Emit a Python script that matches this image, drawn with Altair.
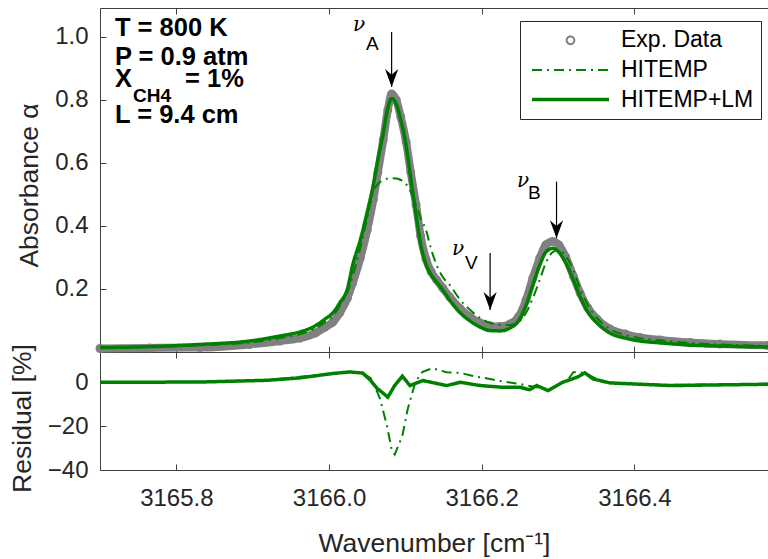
import altair as alt
import pandas as pd

# ---------------- data ----------------
wn = [3165.700, 3165.765, 3165.831, 3165.896, 3165.936, 3165.962, 3165.982, 3165.995,
      3166.005, 3166.014, 3166.024, 3166.031, 3166.041, 3166.050, 3166.058, 3166.064,
      3166.071, 3166.077, 3166.082, 3166.088, 3166.094, 3166.101, 3166.107, 3166.114,
      3166.120, 3166.127, 3166.134, 3166.141, 3166.149, 3166.158, 3166.172, 3166.185,
      3166.198, 3166.211, 3166.224, 3166.237, 3166.248, 3166.258, 3166.267, 3166.276,
      3166.284, 3166.293, 3166.301, 3166.310, 3166.320, 3166.329, 3166.339, 3166.351,
      3166.368, 3166.388, 3166.407, 3166.434, 3166.473, 3166.512, 3166.575]

exp_abs = [0.011, 0.013, 0.014, 0.024, 0.035, 0.044, 0.060, 0.079, 0.095, 0.124,
           0.171, 0.219, 0.298, 0.387, 0.483, 0.571, 0.673, 0.768, 0.819, 0.800,
           0.746, 0.667, 0.571, 0.467, 0.368, 0.295, 0.254, 0.229, 0.203, 0.175,
           0.137, 0.111, 0.092, 0.083, 0.081, 0.089, 0.111, 0.165, 0.235, 0.298,
           0.340, 0.351, 0.340, 0.302, 0.241, 0.187, 0.140, 0.105, 0.073, 0.057,
           0.046, 0.038, 0.030, 0.025, 0.021]

hitemp_abs = [0.013, 0.016, 0.021, 0.030, 0.044, 0.057, 0.075, 0.095, 0.114, 0.146,
              0.190, 0.241, 0.330, 0.425, 0.508, 0.533, 0.546, 0.551, 0.552, 0.551,
              0.546, 0.533, 0.508, 0.467, 0.425, 0.387, 0.324, 0.276, 0.238, 0.213,
              0.165, 0.133, 0.108, 0.092, 0.086, 0.086, 0.095, 0.124, 0.171, 0.229,
              0.283, 0.317, 0.324, 0.305, 0.260, 0.200, 0.149, 0.108, 0.073, 0.054,
              0.044, 0.037, 0.029, 0.024, 0.019]

lm_abs = [0.014, 0.017, 0.024, 0.035, 0.051, 0.064, 0.083, 0.105, 0.124, 0.156,
          0.200, 0.276, 0.356, 0.444, 0.530, 0.610, 0.695, 0.775, 0.805, 0.787,
          0.737, 0.654, 0.552, 0.435, 0.343, 0.279, 0.244, 0.222, 0.197, 0.165,
          0.124, 0.098, 0.079, 0.068, 0.067, 0.076, 0.098, 0.149, 0.213, 0.276,
          0.317, 0.329, 0.317, 0.283, 0.229, 0.175, 0.127, 0.092, 0.060, 0.044,
          0.035, 0.029, 0.022, 0.019, 0.016]

res_wn_hitemp = [3165.700, 3165.831, 3165.919, 3166.005, 3166.027, 3166.044, 3166.056,
                 3166.067, 3166.076, 3166.082, 3166.086, 3166.096, 3166.103, 3166.113,
                 3166.122, 3166.135, 3166.154, 3166.172, 3166.189, 3166.211, 3166.228,
                 3166.250, 3166.272, 3166.289, 3166.312, 3166.320, 3166.335, 3166.359,
                 3166.403, 3166.447, 3166.575]
res_hitemp = [0.0, 0.2, 1.0, 4.0, 4.8, 4.3, 1.5, -7.7, -20.0, -30.7, -33.0, -24.5, -12.3,
              0.0, 4.6, 6.4, 4.6, 4.3, 2.8, 1.5, 0.3, -0.8, -2.3, -3.1, 0.8, 4.6, 4.3,
              0.0, -0.8, -1.2, -0.7]

res_wn_lm = [3165.700, 3165.831, 3165.919, 3165.962, 3166.005, 3166.027, 3166.044,
             3166.054, 3166.063, 3166.071, 3166.077, 3166.086, 3166.096, 3166.106,
             3166.123, 3166.154, 3166.172, 3166.198, 3166.228, 3166.250, 3166.263,
             3166.272, 3166.287, 3166.306, 3166.325, 3166.335, 3166.346, 3166.368,
             3166.447, 3166.575]
res_lm = [0.0, 0.1, 0.9, 2.0, 4.0, 4.7, 4.2, 1.0, -2.8, -5.0, -6.8, -1.5, 2.8, -1.5,
          0.8, -1.5, 0.0, -1.5, -2.3, -2.3, -3.4, -1.5, -3.8, 0.0, 2.3, 4.3, 1.5,
          -0.3, -1.5, -0.9]

series_names = ["Exp. Data", "HITEMP", "HITEMP+LM"]

x_ticks = [3165.8, 3166.0, 3166.2, 3166.4]
abs_ticks = [0.2, 0.4, 0.6, 0.8, 1.0]
res_ticks = [0, -20, -40]
x_domain = [3165.7, 3166.575]
abs_domain = [0, 1.092]
res_domain = [-40, 13.8]

# annotations
cond_text = ["T = 800 K", "P = 0.9 atm", "X", "= 1%", "L = 9.4 cm"]
cond_x = [3165.7196, 3165.7196, 3165.7196, 3165.8113, 3165.7196]
cond_y = [1.003, 0.911, 0.841, 0.841, 0.727]
cond_sub_text = ["CH4"]
cond_sub_x = [3165.7432]
cond_sub_y = [0.795]

nu_x = [3166.0314, 3166.2462, 3166.161]
nu_y = [1.019, 0.524, 0.308]
nu_sub_text = ["A", "B", "V"]
nu_sub_x = [3166.0484, 3166.2606, 3166.178]
nu_sub_y = [0.959, 0.486, 0.263]

arrow_x = [3166.082, 3166.298, 3166.211]
arrow_top = [1.016, 0.541, 0.314]
arrow_tip = [0.841, 0.361, 0.133]

# ---------------- styling ----------------
GREEN = "#008000"
GRAY = "#808080"
INK = "#262626"
AXC = "#404040"
FONT = "Liberation Sans"
W, H = 668, 462
TOP_H = 344

circle_path = "M-0.1,0A0.1,0.1 0 1,0 0.1,0A0.1,0.1 0 1,0 -0.1,0Z"
line_path = "M-1,0L1,0"
arrow_path = "M0,0L-0.33,-0.9L0,-0.62L0.33,-0.9Z"

# ---------------- frames ----------------
exp_df = pd.DataFrame({"wn": wn, "value": exp_abs, "series": "Exp. Data"})
model_df = pd.DataFrame({
    "wn": wn + wn,
    "value": hitemp_abs + lm_abs,
    "series": ["HITEMP"] * len(wn) + ["HITEMP+LM"] * len(wn),
})
resh_df = pd.DataFrame({"wn": res_wn_hitemp, "value": res_hitemp, "series": "HITEMP"})
resl_df = pd.DataFrame({"wn": res_wn_lm, "value": res_lm, "series": "HITEMP+LM"})
arrow_df = pd.DataFrame({"wn": arrow_x, "top": arrow_top, "tip": arrow_tip})
cond_df = pd.DataFrame({"wn": cond_x, "y": cond_y, "label": cond_text})
cond_sub_df = pd.DataFrame({"wn": cond_sub_x, "y": cond_sub_y, "label": cond_sub_text})
nu_df = pd.DataFrame({"wn": nu_x, "y": nu_y, "label": ["ν"] * len(nu_x)})
nu_sub_df = pd.DataFrame({"wn": nu_sub_x, "y": nu_sub_y, "label": nu_sub_text})


def xs():
    return alt.Scale(domain=x_domain, nice=False, zero=False)


def ytop():
    return alt.Scale(domain=abs_domain, range=[TOP_H, 0], nice=False, zero=False)


def ybot():
    return alt.Scale(domain=res_domain, range=[H, TOP_H], nice=False, zero=False)


def X(axis, field="wn:Q"):
    return alt.X(field, scale=xs(), axis=axis)


def tick_axis(orient, offset, domain):
    return alt.Axis(orient=orient, offset=offset, values=x_ticks, labels=False, ticks=True,
                    tickSize=6, domain=domain, title=None, grid=False)


color = alt.Color("series:N", scale=alt.Scale(domain=series_names, range=[GRAY, GREEN, GREEN]), title=None)
shape = alt.Shape("series:N", scale=alt.Scale(domain=series_names, range=[circle_path, line_path, line_path]), title=None)
dash = alt.StrokeDash("series:N", scale=alt.Scale(domain=series_names, range=[[1, 0], [10, 5, 2, 5], [1, 0]]), title=None)
swidth = alt.StrokeWidth("series:N", scale=alt.Scale(type="ordinal", domain=series_names, range=[2, 2, 3.5]), title=None)

axis_labels = alt.Axis(orient="bottom", offset=0, values=x_ticks, format=".1f", ticks=False, tickSize=0,
                       domain=False, labelPadding=16, title="Wavenumber [cm⁻¹]", titlePadding=20, grid=False)
left_domain = alt.Axis(orient="left", domain=True, ticks=False, labels=False, title=None, grid=False)
axis_abs = alt.Axis(orient="left", values=abs_ticks, format=".1f", offset=-6, tickSize=6, domain=False,
                    labelPadding=12, title="Absorbance α", titlePadding=11, titleY=177, grid=False)
axis_res = alt.Axis(orient="left", values=res_ticks, format="d", offset=-6, tickSize=6, domain=False,
                    labelPadding=12, title="Residual [%]", titlePadding=11, titleY=410, grid=False)

band = alt.Chart(exp_df).mark_line(color=GRAY, strokeWidth=8, interpolate="monotone", strokeCap="round").encode(
    x=X(axis_labels), y=alt.Y("value:Q", scale=ytop(), axis=left_domain))

points = alt.Chart(exp_df).mark_point(filled=False, size=4900, opacity=1).encode(
    x=X(tick_axis("top", -H, True)), y=alt.Y("value:Q", scale=ytop(), axis=None),
    color=color, shape=shape, strokeWidth=swidth)

models = alt.Chart(model_df).mark_line(interpolate="monotone").encode(
    x=X(tick_axis("bottom", -H, True)), y=alt.Y("value:Q", scale=ytop(), axis=axis_abs),
    color=color, strokeDash=dash, strokeWidth=swidth)

res_h = alt.Chart(resh_df).mark_line().encode(
    x=X(tick_axis("top", -TOP_H, True)), y=alt.Y("value:Q", scale=ybot(), axis=axis_res),
    color=color, strokeDash=dash, strokeWidth=swidth)

res_l = alt.Chart(resl_df).mark_line().encode(
    x=X(tick_axis("bottom", -(H - TOP_H), False)), y=alt.Y("value:Q", scale=ybot(), axis=left_domain),
    color=color, strokeDash=dash, strokeWidth=swidth)

rules = alt.Chart(arrow_df).mark_rule(color="black", strokeWidth=1.2).encode(
    x=X(None), y=alt.Y("top:Q", scale=ytop(), axis=None), y2="tip:Q")

heads = alt.Chart(arrow_df).mark_point(shape=arrow_path, filled=True, color="black", size=1600,
                                       opacity=1, strokeWidth=0).encode(
    x=X(None), y=alt.Y("tip:Q", scale=ytop(), axis=None))

cond = alt.Chart(cond_df).mark_text(align="left", baseline="alphabetic", font=FONT, fontSize=25.5,
                                    fontWeight="bold", color="black").encode(
    x=X(None), y=alt.Y("y:Q", scale=ytop(), axis=None), text="label:N")

cond_sub = alt.Chart(cond_sub_df).mark_text(align="left", baseline="alphabetic", font=FONT, fontSize=19,
                                            fontWeight="bold", color="black").encode(
    x=X(None), y=alt.Y("y:Q", scale=ytop(), axis=None), text="label:N")

nu = alt.Chart(nu_df).mark_text(align="left", baseline="alphabetic", font="DejaVu Serif", fontSize=20,
                                fontStyle="italic", color="black").encode(
    x=X(None), y=alt.Y("y:Q", scale=ytop(), axis=None), text="label:N")

nu_sub = alt.Chart(nu_sub_df).mark_text(align="left", baseline="alphabetic", font=FONT, fontSize=19,
                                        color="black").encode(
    x=X(None), y=alt.Y("y:Q", scale=ytop(), axis=None), text="label:N")

chart = alt.layer(band, points, models, res_h, res_l, rules, heads, cond, cond_sub, nu, nu_sub).resolve_scale(
    y="independent"
).resolve_axis(
    x="independent", y="independent"
).properties(
    width=W, height=H,
    padding={"left": 100, "top": 8, "right": 0, "bottom": 89},
    autosize=alt.AutoSizeParams(type="none"),
    background="white",
).configure_view(
    stroke=None
).configure_axis(
    labelFont=FONT, labelFontSize=24, labelColor=INK, titleFont=FONT, titleFontSize=26.5,
    titleColor=INK, titleFontWeight="normal", domainColor=AXC, tickColor=AXC, domainWidth=1, tickWidth=1,
).configure_legend(
    orient="none", legendX=420, legendY=13, direction="vertical", strokeColor=INK, fillColor="white",
    padding=7, labelFont=FONT, labelFontSize=23, labelColor="black", symbolSize=5929, clipHeight=24.6,
    rowPadding=4.6, symbolOffset=3, labelOffset=10, labelLimit=0, cornerRadius=0, titlePadding=0,
)

chart.save("out.html", embed_options={"renderer": "svg", "actions": False})
